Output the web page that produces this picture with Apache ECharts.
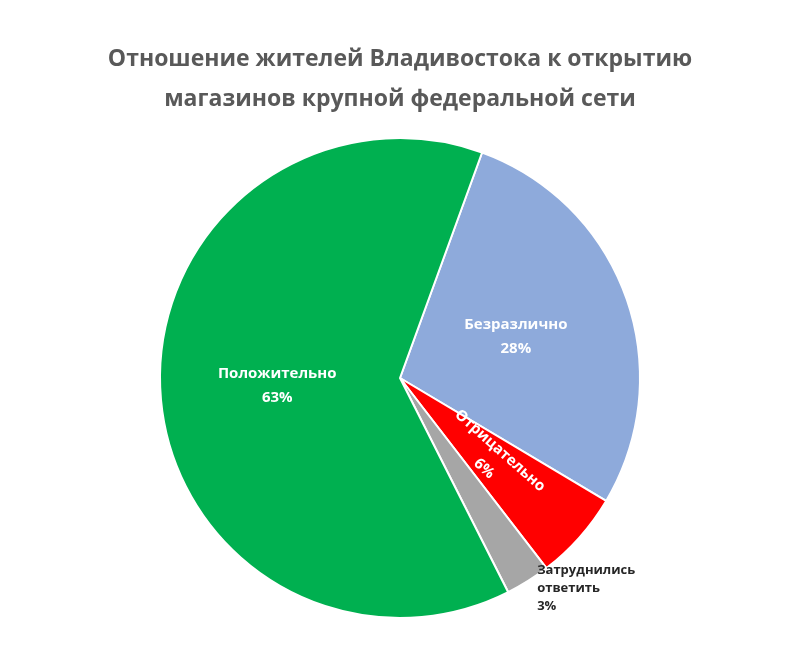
<!DOCTYPE html>
<html>
<head>
<meta charset="utf-8">
<script src="https://cdn.jsdelivr.net/npm/echarts@6/dist/echarts.min.js"></script>
<style>
  body { margin: 0; background: #fff; }
  #chart { width: 800px; height: 672px; }
</style>
</head>
<body>
<div id="chart"></div>
<script>
const categories = ['Безразлично', 'Отрицательно', 'Затруднились\nответить', 'Положительно'];
const values = [28, 6, 3, 63];
const colors = ['#8eaadb', '#ff0000', '#a6a6a6', '#00b050'];

const chart = echarts.init(document.getElementById('chart'));

const data = categories.map((name, i) => {
    const item = { name, value: values[i], itemStyle: { color: colors[i] } };
    if (i === 1) {
        item.label = { rotate: 'radial' };
    }
    if (i === 2) {
        item.label = {
            position: 'outside',
            color: '#262626',
            fontSize: 13,
            lineHeight: 18,
            align: 'center'
        };
        item.labelLine = { show: false, length: 8, length2: 0 };
    }
    return item;
});

chart.setOption({
    title: {
        text: 'Отношение жителей Владивостока к открытию\nмагазинов крупной федеральной сети',
        left: 'center',
        top: 34,
        textStyle: {
            color: '#595959',
            fontSize: 23,
            fontWeight: 'bold',
            fontFamily: 'Open Sans',
            lineHeight: 40
        }
    },
    series: [{
        type: 'pie',
        center: [400, 378],
        radius: [0, 240],
        startAngle: 70,
        clockwise: true,
        avoidLabelOverlap: false,
        itemStyle: { borderColor: '#fff', borderWidth: 2 },
        label: {
            position: 'inside',
            formatter: '{b}\n{d}%',
            color: '#fff',
            fontSize: 15,
            fontWeight: 'bold',
            fontFamily: 'Open Sans',
            lineHeight: 24
        },
        data: data
    }]
});
</script>
</body>
</html>
